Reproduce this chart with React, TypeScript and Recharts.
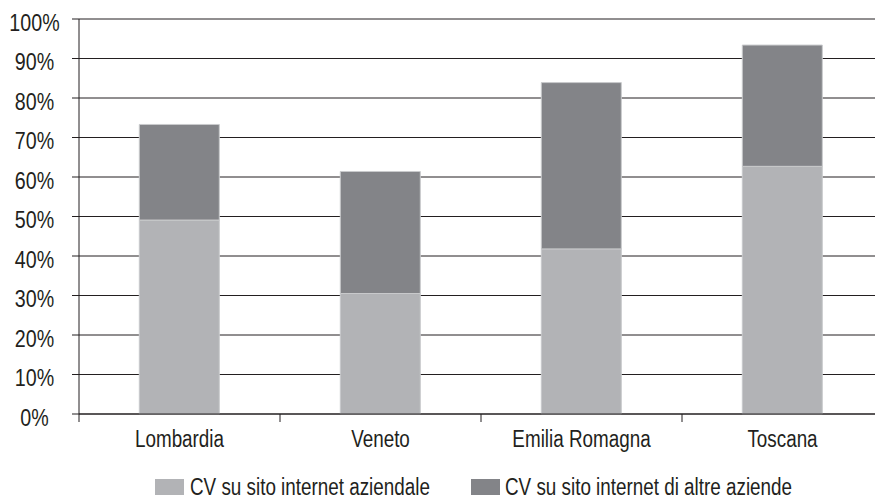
import React from 'react';
import { BarChart, Bar, XAxis, YAxis, CartesianGrid, Legend } from 'recharts';

const regions = ['Lombardia', 'Veneto', 'Emilia Romagna', 'Toscana'];
const ownSite = [49.1, 30.5, 41.8, 62.7];
const otherSites = [24.2, 30.9, 42.1, 30.7];
const yTicks = [0, 10, 20, 30, 40, 50, 60, 70, 80, 90, 100];

const seriesNames = ['CV su sito internet aziendale', 'CV su sito internet di altre aziende'];
const LIGHT = '#b2b3b6';
const DARK = '#838488';
const INK = '#231f20';
// no narrow face available, so a regular sans is squeezed horizontally
const FONT = '"Liberation Sans", Arial, sans-serif';
const NARROW = 0.82;

const CHART_W = 884;
const CHART_H = 498;
const AXIS_W = 79;
const BAND = (CHART_W - AXIS_W - 1) / regions.length;

const data = regions.map((name, i) => ({
  name,
  own: ownSite[i],
  other: otherSites[i],
}));

const NarrowText = ({ x, y, size, anchor, children }: any) => (
  <text
    transform={`translate(${x},${y}) scale(${NARROW},1)`}
    textAnchor={anchor}
    fill={INK}
    fontSize={size}
    fontFamily={FONT}
  >
    {children}
  </text>
);

// category label plus a tick mark on the left edge of each band
const CategoryTick = (props: any) => {
  const { x, y, payload } = props;
  const half = payload?.offset || BAND / 2;
  return (
    <g>
      <line x1={x - half} x2={x - half} y1={y} y2={y + 8} stroke={INK} strokeWidth={1} />
      <NarrowText x={x} y={y + 32.5} size={23} anchor="middle">
        {payload.value}
      </NarrowText>
    </g>
  );
};

const PercentTick = (props: any) => {
  const { x, y, payload } = props;
  return (
    <NarrowText x={x} y={y + 11.5} size={24} anchor="middle">
      {`${payload.value}%`}
    </NarrowText>
  );
};

const LegendContent = () => (
  <svg width={CHART_W} height={38} style={{ display: 'block', overflow: 'visible' }}>
    <rect x={155} y={19} width={29} height={16} fill={LIGHT} />
    <NarrowText x={190} y={34.5} size={23} anchor="start">{seriesNames[0]}</NarrowText>
    <rect x={471} y={19} width={29} height={16} fill={DARK} />
    <NarrowText x={505} y={34.5} size={23} anchor="start">{seriesNames[1]}</NarrowText>
  </svg>
);

export default function App() {
  return (
    <div style={{ position: 'fixed', left: 0, top: 0, width: 875, height: 498, overflow: 'hidden', background: '#fff' }}>
      <BarChart
        width={CHART_W}
        height={CHART_H}
        data={data}
        margin={{ top: 19, right: 1, left: 0, bottom: 0 }}
        barCategoryGap="30%"
      >
        <CartesianGrid horizontal vertical={false} stroke={INK} strokeOpacity={1} />
        <XAxis
          dataKey="name"
          height={46}
          axisLine={{ stroke: INK }}
          tickLine={false}
          tickSize={0}
          tickMargin={0}
          tick={<CategoryTick />}
          interval={0}
        />
        <YAxis
          width={AXIS_W}
          domain={[0, 100]}
          ticks={yTicks}
          axisLine={{ stroke: INK }}
          tickLine={{ stroke: INK }}
          tickSize={7}
          tickMargin={37.5}
          tick={<PercentTick />}
          interval={0}
        />
        <Legend verticalAlign="bottom" height={38} content={<LegendContent />} wrapperStyle={{ left: 0, width: CHART_W }} />
        <Bar dataKey="own" name={seriesNames[0]} stackId="a" fill={LIGHT} stroke="#c9cacc" strokeWidth={1} isAnimationActive={false} />
        <Bar dataKey="other" name={seriesNames[1]} stackId="a" fill={DARK} stroke="#c9cacc" strokeWidth={1} isAnimationActive={false} />
      </BarChart>
    </div>
  );
}
